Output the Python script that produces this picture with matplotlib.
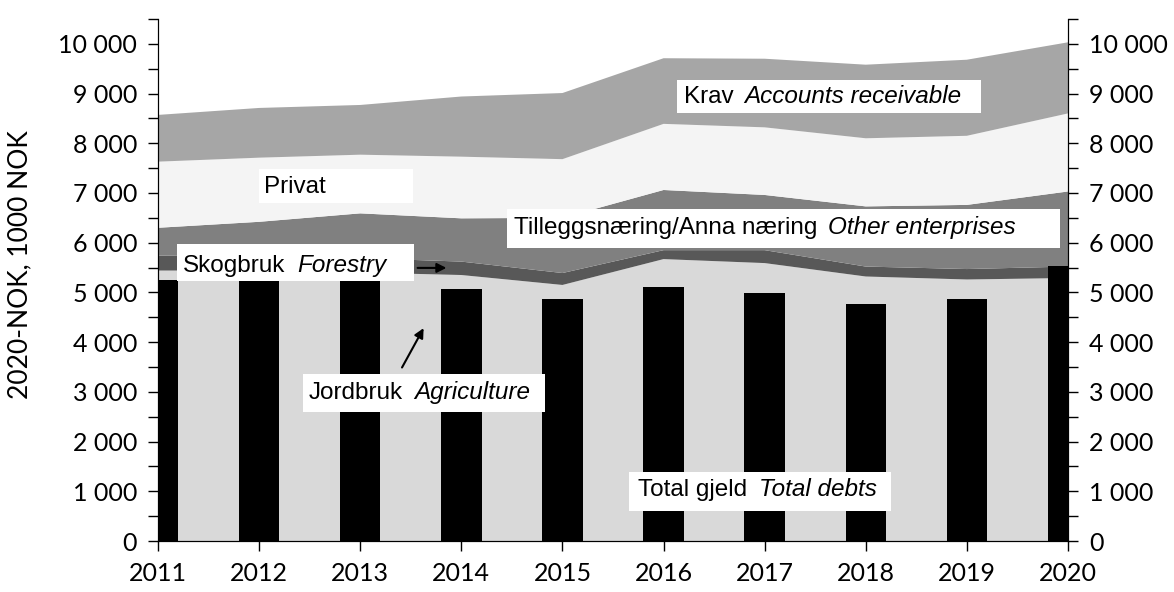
import matplotlib
matplotlib.use("Agg")
import matplotlib.pyplot as plt
from matplotlib.patches import Rectangle
from matplotlib.ticker import MultipleLocator, FuncFormatter

years = [2011, 2012, 2013, 2014, 2015, 2016, 2017, 2018, 2019, 2020]

# assets, 1000 NOK (2020 value), stacked bottom to top
jordbruk = [5440, 5440, 5400, 5350, 5150, 5670, 5590, 5320, 5260, 5290]
skogbruk = [300, 280, 290, 270, 240, 180, 260, 200, 210, 230]
tillegg = [560, 700, 900, 870, 1110, 1210, 1110, 1210, 1290, 1510]
privat = [1330, 1290, 1180, 1240, 1180, 1330, 1360, 1370, 1390, 1570]
krav = [940, 1000, 1000, 1210, 1330, 1320, 1380, 1480, 1530, 1430]

total_gjeld = [5250, 5230, 5230, 5060, 4860, 5100, 4980, 4760, 4860, 5530]

area_colors = ["#d9d9d9", "#585858", "#808080", "#f4f4f4", "#a6a6a6"]

tick_font = "Lato"
note_font = "Liberation Sans"

fig = plt.figure(figsize=(11.74, 5.92), dpi=100)
ax = fig.add_axes([0.1346, 0.0861, 0.7751, 0.8819])

ax.stackplot(years, jordbruk, skogbruk, tillegg, privat, krav,
             colors=area_colors, linewidth=0, zorder=1)
ax.bar(years, total_gjeld, width=0.4, color="black", zorder=2)

ax.set_xlim(2011, 2020)
ax.set_ylim(0, 10500)
ax.set_xticks(years)


def thousands(v, pos):
    return f"{int(v):,}".replace(",", " ")


ax.yaxis.set_major_locator(MultipleLocator(1000))
ax.yaxis.set_minor_locator(MultipleLocator(500))
ax.yaxis.set_major_formatter(FuncFormatter(thousands))

ax.spines["top"].set_visible(False)
ax.tick_params(axis="both", which="both", direction="out", length=7, width=1,
               labelsize=18, pad=8)
for lab in ax.get_xticklabels() + ax.get_yticklabels():
    lab.set_fontfamily(tick_font)
ax.set_ylabel("2020-NOK, 1000 NOK", fontsize=19, fontfamily=tick_font)
ax.yaxis.set_label_coords(-0.138, 0.53)

ax2 = ax.twinx()
ax2.set_ylim(ax.get_ylim())
ax2.yaxis.set_major_locator(MultipleLocator(1000))
ax2.yaxis.set_minor_locator(MultipleLocator(500))
ax2.yaxis.set_major_formatter(FuncFormatter(thousands))
ax2.spines["top"].set_visible(False)
ax2.tick_params(axis="y", which="both", direction="out", length=7, width=1,
                labelsize=18, pad=8)
for lab in ax2.get_yticklabels():
    lab.set_fontfamily(tick_font)
ax2.set_zorder(0)


def label(x0, y0, x1, y1, tx, ty, plain, italic=None):
    ax.add_patch(Rectangle((x0, y0), x1 - x0, y1 - y0, facecolor="white",
                           edgecolor="none", zorder=5))
    t = ax.text(tx, ty, plain, fontsize=17.5, fontfamily=note_font,
                va="center", ha="left", zorder=6)
    if italic:
        ax.annotate(italic, xy=(1, 0), xycoords=t, xytext=(8, 0),
                    textcoords="offset points", va="bottom", ha="left",
                    fontsize=17.5, fontfamily=note_font, style="italic",
                    zorder=6)


label(2016.13, 8612, 2019.14, 9276, 2016.20, 8934, "Krav", "Accounts receivable")
label(2012.00, 6801, 2013.52, 7485, 2012.05, 7123, "Privat")
label(2014.45, 5895, 2019.92, 6680, 2014.52, 6298, "Tilleggsnæring/Anna næring",
      "Other enterprises")
label(2011.19, 5231, 2013.53, 5976, 2011.25, 5533, "Skogbruk", "Forestry")
label(2012.43, 2596, 2014.83, 3360, 2012.49, 2978, "Jordbruk", "Agriculture")
label(2015.66, 600, 2018.25, 1388, 2015.75, 1026, "Total gjeld", "Total debts")

arrow = dict(arrowstyle="-|>", color="black", lw=1.5, mutation_scale=14)
ax.annotate("", xy=(2013.88, 5493), xytext=(2013.54, 5493),
            arrowprops=arrow, zorder=7)
ax.annotate("", xy=(2013.64, 4330), xytext=(2013.40, 3441),
            arrowprops=arrow, zorder=7)

fig.savefig("out.png", dpi=100)
